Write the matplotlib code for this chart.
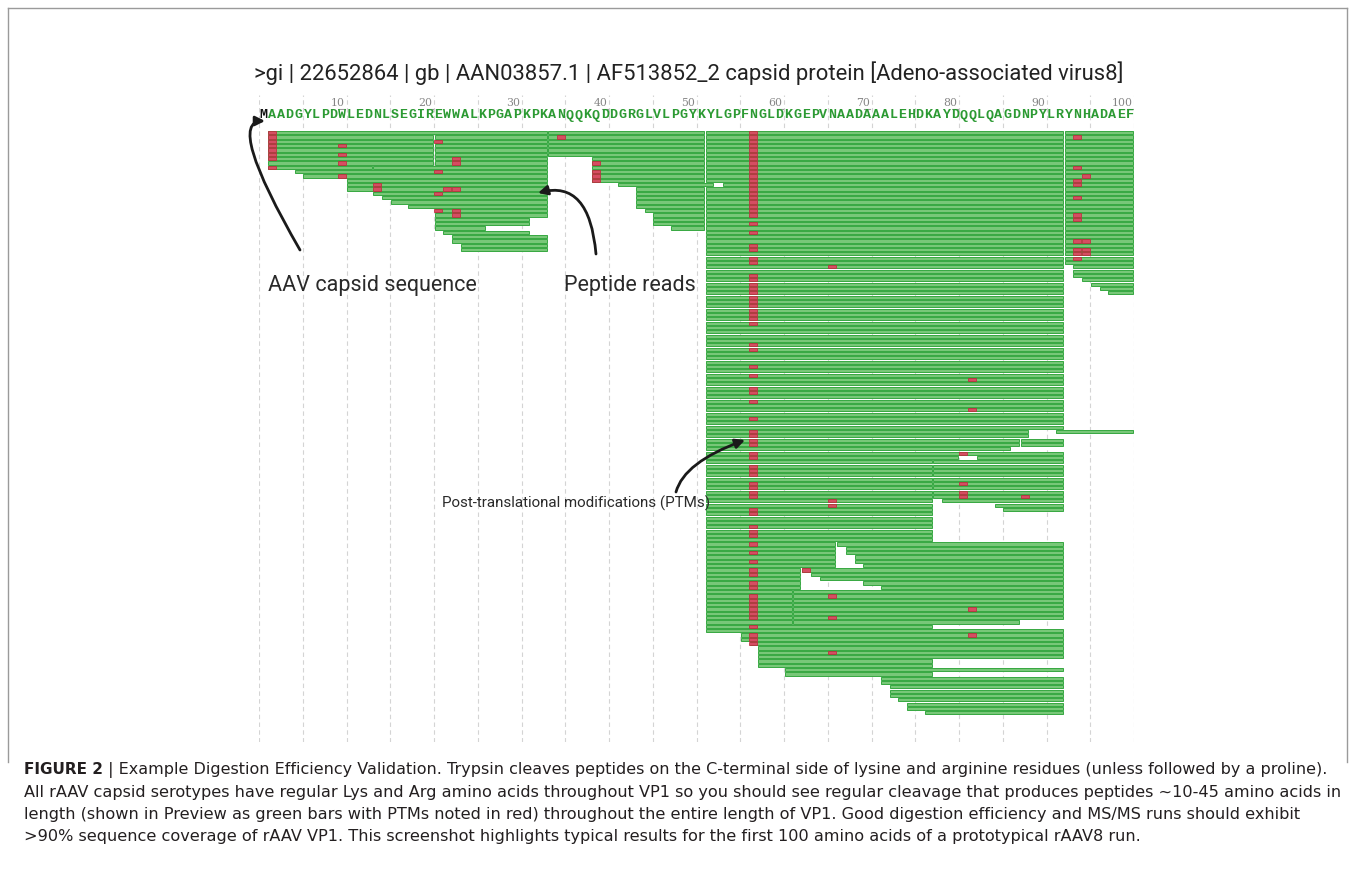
import numpy as np
import matplotlib.pyplot as plt
from matplotlib.lines import Line2D

W, H = 1355, 874

#=== Sequence and ruler ===#
sequence = ("MAADGYLPDWLEDNLSEGIREWWALKPGAPKPKANQQKQDDGRGLVLPGY"
            "KYLGPFNGLDKGEPVNAADAAALEHDKAYDQQLQAGDNPYLRYNHADAEF")
tick_residues = [10, 20, 30, 40, 50, 60, 70, 80, 90, 100]

#=== Peptide reads: (first row, last row, first residue, last residue) ===#
left_reads = [(0, 0, 2, 33), (1, 7, 2, 20), (1, 7, 21, 33), (8, 8, 2, 13), (8, 8, 14, 33),
              (9, 9, 5, 33), (10, 10, 6, 33), (11, 13, 11, 33),
              (14, 14, 14, 33), (15, 15, 15, 33), (16, 16, 16, 33), (17, 17, 18, 33),
              (18, 19, 21, 33), (20, 21, 21, 31), (22, 22, 21, 26), (23, 23, 22, 31),
              (24, 25, 23, 33), (26, 27, 24, 33)]
mid_reads = [(0, 5, 34, 51), (6, 11, 39, 51), (12, 12, 42, 52), (13, 17, 44, 51),
             (18, 18, 45, 51), (19, 21, 46, 51), (22, 22, 48, 51)]
main_reads = [(0, 11, 52, 92), (12, 12, 54, 92), (13, 68, 52, 92),
              (69, 70, 52, 88), (69, 69, 92, 100),
              (71, 72, 52, 87), (71, 72, 88, 92), (73, 73, 52, 86), (74, 74, 52, 92),
              (75, 75, 52, 80), (75, 75, 83, 92),
              (76, 94, 52, 77), (76, 84, 78, 92), (85, 85, 79, 92), (86, 86, 85, 92),
              (87, 87, 86, 92),
              (95, 100, 52, 66), (95, 95, 67, 92), (96, 97, 68, 92), (98, 99, 69, 92),
              (100, 100, 70, 92),
              (101, 105, 52, 62), (101, 101, 63, 92), (102, 102, 64, 92),
              (103, 103, 65, 92), (104, 104, 70, 92), (105, 105, 72, 92),
              (106, 113, 52, 61), (106, 112, 62, 92), (113, 113, 62, 87),
              (114, 114, 52, 77), (115, 115, 52, 92), (116, 117, 56, 92),
              (118, 118, 57, 92), (119, 121, 58, 92), (122, 123, 58, 77),
              (124, 124, 61, 92), (125, 125, 61, 77), (126, 127, 72, 92),
              (128, 130, 73, 92), (131, 131, 74, 92), (132, 133, 75, 92),
              (134, 134, 77, 92)]
right_reads = [(0, 30, 93, 100), (31, 33, 94, 100), (34, 34, 95, 100),
               (35, 35, 96, 100), (36, 36, 97, 100), (37, 37, 98, 100)]

#=== PTMs ===#
n57_rows = [0, 1, 2, 3, 4, 5, 6, 7, 8, 9, 10, 11, 12, 13, 14, 15, 16, 17, 18, 19,
            21, 23, 26, 27, 29, 30, 33, 34, 35, 36, 37, 38, 39, 40, 41, 42, 43, 44,
            49, 50, 54, 56, 59, 60, 62, 66, 69, 70, 71, 72, 74, 75, 77, 78, 79,
            81, 82, 83, 84, 87, 88, 91, 92, 93, 95, 97, 99, 101, 102, 104, 105,
            107, 108, 109, 110, 111, 112, 114, 116, 117, 118]
other_ptms = [(0, 2), (1, 2), (2, 2), (3, 2), (4, 2), (5, 2), (6, 2), (8, 2),
              (3, 10), (5, 10), (7, 10), (10, 10), (12, 14), (13, 14),
              (2, 21), (9, 21), (14, 21), (18, 21), (13, 22), (13, 23),
              (6, 23), (7, 23), (18, 23), (19, 23),
              (1, 35), (7, 39), (9, 39), (10, 39), (11, 39),
              (31, 66), (85, 66), (86, 66), (107, 66), (112, 66), (120, 66),
              (101, 63), (74, 81), (81, 81), (83, 81), (84, 81),
              (57, 82), (64, 82), (110, 82), (116, 82), (84, 88),
              (1, 94), (8, 94), (11, 94), (12, 94), (15, 94), (19, 94), (20, 94),
              (25, 94), (27, 94), (28, 94), (29, 94),
              (10, 95), (25, 95), (27, 95), (28, 95)]

title = ">gi | 22652864 | gb | AAN03857.1 | AF513852_2 capsid protein [Adeno-associated virus8]"
caption_rest = [
    " | Example Digestion Efficiency Validation. Trypsin cleaves peptides on the C-terminal side of lysine and arginine residues (unless followed by a proline).",
    "All rAAV capsid serotypes have regular Lys and Arg amino acids throughout VP1 so you should see regular cleavage that produces peptides ~10-45 amino acids in",
    "length (shown in Preview as green bars with PTMs noted in red) throughout the entire length of VP1. Good digestion efficiency and MS/MS runs should exhibit",
    ">90% sequence coverage of rAAV VP1. This screenshot highlights typical results for the first 100 amino acids of a prototypical rAAV8 run.",
]


def expand(blocks):
    rows, lefts, widths = [], [], []
    for r0, r1, a, b in blocks:
        for r in range(r0, r1 + 1):
            rows.append(r)
            lefts.append(a - 1)
            widths.append(b - a + 1)
    return np.array(rows), np.array(lefts), np.array(widths)


def row_of(py):
    # pixel row -> read row units
    return (py - 132.7) / 4.33


fig = plt.figure(figsize=(W / 100, H / 100), dpi=100)
ax_top, ax_bot = 93, 742
ax = fig.add_axes([259 / W, 1 - ax_bot / H, (1134 - 259) / W, (ax_bot - ax_top) / H])
ax.set_xlim(0, 100)
ax.set_ylim(row_of(ax_bot), row_of(ax_top))
ax.axis('off')

#=== Grid every 5 residues ===#
ax.vlines(np.arange(0, 101, 5), row_of(ax_bot), row_of(95), colors='#d4d4d4',
          linestyles=(0, (4, 3)), linewidth=0.8, zorder=0)

#=== Reads ===#
bar_h = 0.72
for blocks in [left_reads, mid_reads, main_reads, right_reads]:
    rows, lefts, widths = expand(blocks)
    ax.barh(rows, widths - 0.18, left=lefts + 0.06, height=bar_h, color='#78c778',
            edgecolor='#36a841', linewidth=0.7, zorder=2)

ptm_rows = np.array(n57_rows + [p[0] for p in other_ptms])
ptm_res = np.array([57] * len(n57_rows) + [p[1] for p in other_ptms])
ax.barh(ptm_rows, 0.9, left=ptm_res - 0.95, height=bar_h, color='#d64d62',
        edgecolor='#c02539', linewidth=0.5, zorder=3)

#=== Sequence letters and ruler ===#
for i, aa in enumerate(sequence):
    ax.text(i + 0.5, row_of(115.5), aa, ha='center', va='center',
            family='Liberation Mono', fontweight='bold', fontsize=9.6,
            color='#111111' if i == 0 else '#2c9a33', zorder=4)
for t in tick_residues:
    ax.text(t - 0.15, row_of(103), str(t), ha='right', va='center',
            family='DejaVu Serif', fontsize=7.8, color='#858585')
    ax.plot([t - 0.85, t - 0.15], [row_of(109), row_of(109)], color='#9a9a9a', lw=0.8)

#=== Title and annotations ===#
fig.text(689 / W, 1 - 73 / H, title, ha='center', va='center', family='Roboto',
         fontsize=15.8, color='#222222')
fig.text(268 / W, 1 - 286 / H, 'AAV capsid sequence', ha='left', va='center',
         family='Roboto', fontsize=15.5, color='#2a2a2a')
fig.text(564 / W, 1 - 286 / H, 'Peptide reads', ha='left', va='center',
         family='Roboto', fontsize=15.5, color='#2a2a2a')
fig.text(442 / W, 1 - 503 / H, 'Post-translational modifications (PTMs)', ha='left',
         va='center', family='Roboto', fontsize=10.9, color='#2a2a2a')

arrow_kw = dict(arrowstyle='-|>', color='#1a1a1a', lw=2, mutation_scale=14,
                shrinkA=0, shrinkB=0)
ax.annotate('', xy=(265, H - 121), xytext=(300, H - 250), xycoords='figure pixels',
            arrowprops=dict(connectionstyle='angle3,angleA=120,angleB=0', **arrow_kw))
ax.annotate('', xy=(538, H - 193), xytext=(596, H - 254), xycoords='figure pixels',
            arrowprops=dict(connectionstyle='angle3,angleA=95,angleB=15', **arrow_kw))
ax.annotate('', xy=(745, H - 440), xytext=(676, H - 492), xycoords='figure pixels',
            arrowprops=dict(connectionstyle='angle3,angleA=75,angleB=20', **arrow_kw))

#=== Frame ===#
frame = dict(color='#9a9a9a', lw=1.0, transform=fig.transFigure)
fig.add_artist(Line2D([8 / W, 8 / W], [1 - 8 / H, 1 - 762 / H], **frame))
fig.add_artist(Line2D([1347 / W, 1347 / W], [1 - 8 / H, 1 - 762 / H], **frame))
fig.add_artist(Line2D([8 / W, 1347 / W], [1 - 8 / H, 1 - 8 / H], **frame))

#=== Caption ===#
line_y = [770, 792, 814, 836]
bold = fig.text(24 / W, 1 - line_y[0] / H, 'FIGURE 2', ha='left', va='center',
                family='DejaVu Sans', fontweight='bold', fontsize=11.0, color='#231f20')
fig.canvas.draw()
x_after = bold.get_window_extent().x1 / W
fig.text(x_after, 1 - line_y[0] / H, caption_rest[0], ha='left', va='center',
         family='DejaVu Sans', fontsize=11.5, color='#231f20')
for y, line in zip(line_y[1:], caption_rest[1:]):
    fig.text(24 / W, 1 - y / H, line, ha='left', va='center',
             family='DejaVu Sans', fontsize=11.6, color='#231f20')

plt.savefig('out.png', dpi=100)
